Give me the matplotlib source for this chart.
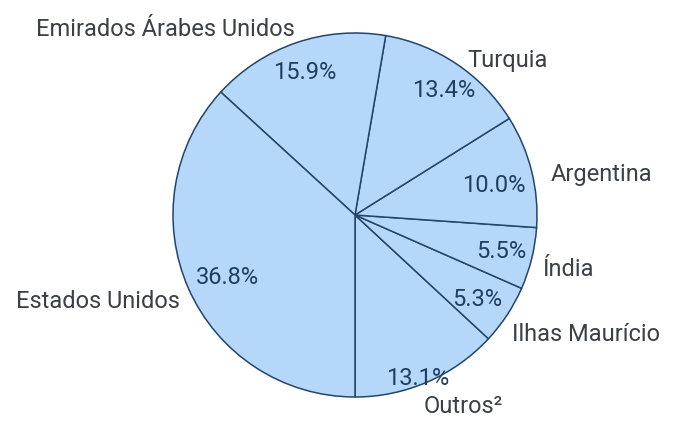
import numpy as np
import matplotlib.pyplot as plt

# share of destinations, counter-clockwise from the bottom
labels = ["Outros²", "Ilhas Maurício", "Índia", "Argentina",
          "Turquia", "Emirados Árabes Unidos", "Estados Unidos"]
shares = [13.1, 5.3, 5.5, 10.0, 13.4, 15.9, 36.8]

# text placement (angle offset / radius factor for percentages and names)
pct_shift = [-2.6, -1.4, -0.3, -1.9, -1.4, 0.7, 2.2]
pct_radius = [0.96, 0.82, 0.83, 0.78, 0.84, 0.83, 0.78]
name_shift = [6, 6, -0.5, -4.7, -10.8, 26.7, -5.1]
name_radius = [1.21, 1.43, 1.21, 1.37, 1.19, 1.46, 1.49]

plt.rcParams['font.family'] = ['Roboto', 'DejaVu Sans']

fig = plt.figure(figsize=(6.76, 4.26), dpi=100)
ax = fig.add_axes([0, 0, 1, 1])

cx, cy, R = 355, 426 - 215, 182
wedges, _ = ax.pie(shares, startangle=-90, counterclock=True, radius=R,
                   center=(cx, cy), colors=['#b5d8fa'] * len(shares),
                   wedgeprops=dict(edgecolor='#24456a', linewidth=1.1))
ax.set_xlim(0, 676)
ax.set_ylim(0, 426)
ax.set_aspect('equal')
ax.axis('off')

for w, lab, val, ps, pr, ds, nr in zip(wedges, labels, shares, pct_shift,
                                       pct_radius, name_shift, name_radius):
    mid = (w.theta1 + w.theta2) / 2
    a = np.deg2rad(mid + ps)
    ax.text(cx + pr * R * np.cos(a), cy + pr * R * np.sin(a),
            f"{val:.1f}%", ha='center', va='center', fontsize=17,
            color='#203e62')
    a = np.deg2rad(mid + ds)
    ax.text(cx + nr * R * np.cos(a), cy + nr * R * np.sin(a),
            lab, ha='center', va='center', fontsize=17, color='#3a4046')

fig.savefig("out.png", dpi=100)
